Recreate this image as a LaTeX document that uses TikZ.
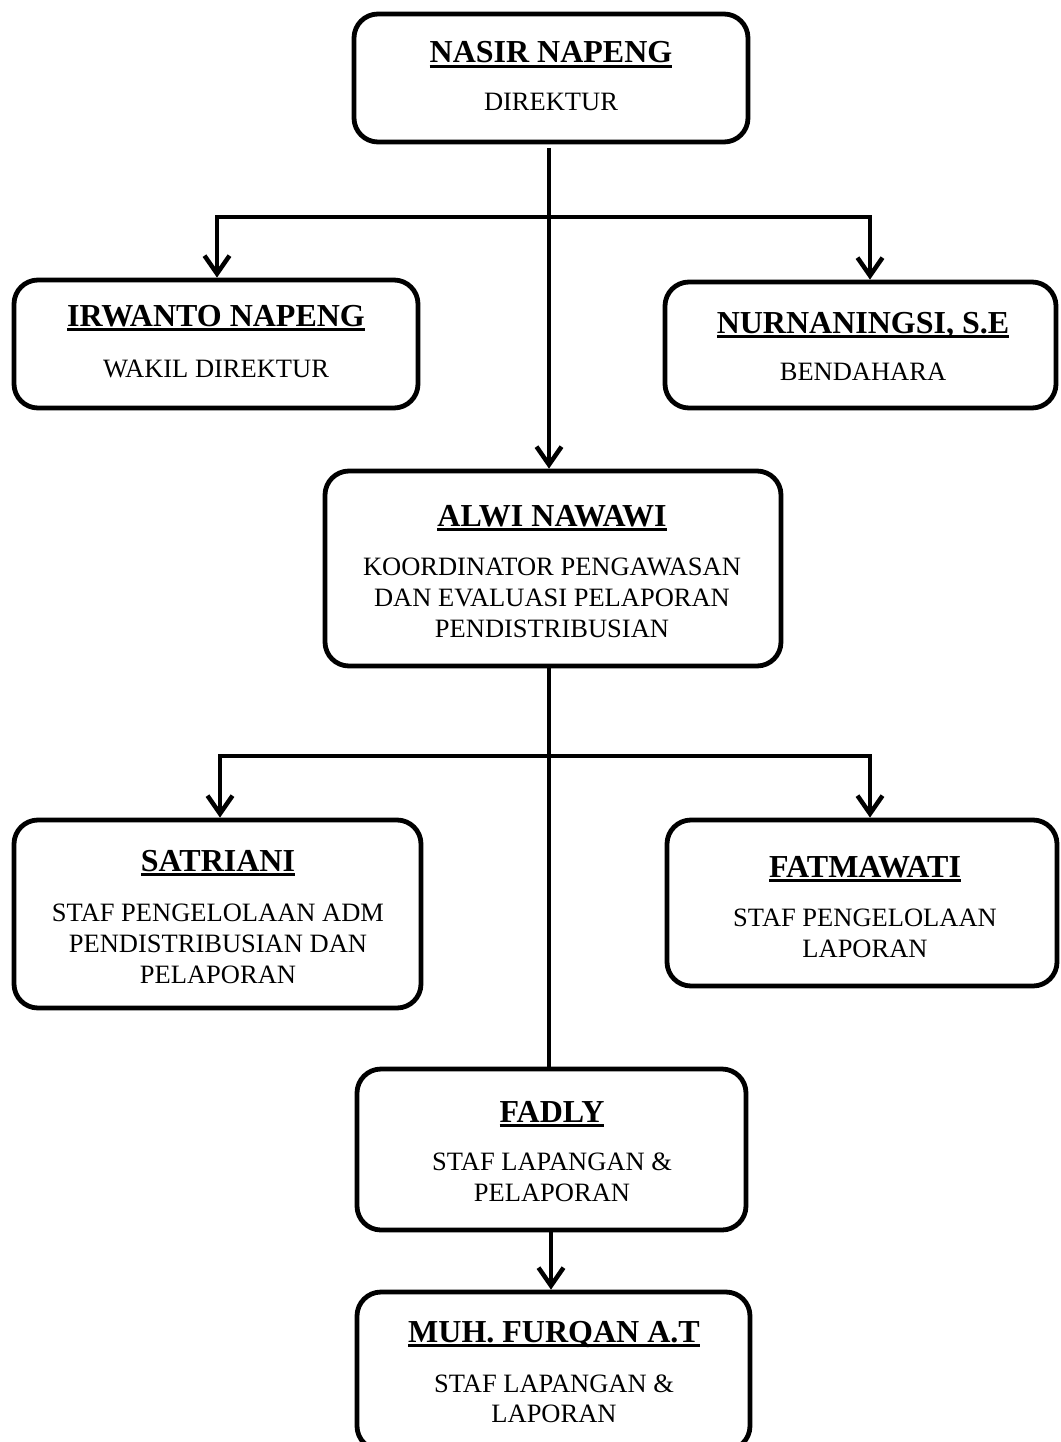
\documentclass[tikz,border=0pt]{standalone}
\usepackage{fontspec}
\setmainfont{Liberation Serif}
\usetikzlibrary{arrows.meta}
\newcommand\ulname[1]{\setbox0=\hbox{#1}\dp0=0pt\vtop{\box0\kern2pt\hrule height 2.6pt}}
\tikzset{
  orgbox/.style={draw=black, line width=4.8pt, rounded corners=24pt, inner sep=0pt},
  nametext/.style={anchor=base, inner sep=0pt, font=\fontsize{32}{36}\selectfont\bfseries},
  roletext/.style={anchor=base, inner sep=0pt, font=\fontsize{26.5}{31}\selectfont},
  conn/.style={line width=4.5pt, draw=black},
  connarr/.style={conn, -{Straight Barb[length=18pt,width=25pt,line width=4.5pt]}},
}
\begin{document}
\begin{tikzpicture}[x=1pt,y=-1pt]
\useasboundingbox (0,0) rectangle (1060,1442);
\begin{scope}
\clip (0,0) rectangle (1060,1442);
% boxes
\node[orgbox, minimum width=394pt, minimum height=128pt] (b1) at (551,78) {};
\node[orgbox, minimum width=404pt, minimum height=128pt] (b2) at (216,344) {};
\node[orgbox, minimum width=391pt, minimum height=126pt] (b3) at (860.5,345) {};
\node[orgbox, minimum width=456pt, minimum height=195pt] (b4) at (553,568.5) {};
\node[orgbox, minimum width=407pt, minimum height=188pt] (b5) at (217.5,914) {};
\node[orgbox, minimum width=390pt, minimum height=166pt] (b6) at (862,903) {};
\node[orgbox, minimum width=389pt, minimum height=161pt] (b7) at (551.5,1149.5) {};
\node[orgbox, minimum width=393pt, minimum height=158pt] (b8) at (553.5,1371) {};
\end{scope}
% texts
\node[nametext] (t1a) at (551,63) {\ulname{NASIR NAPENG}};
\node[roletext] (t1b) at (551,111) {DIREKTUR};
\node[nametext] (t2a) at (216,326) {\ulname{IRWANTO NAPENG}};
\node[roletext] (t2b) at (216,377) {WAKIL DIREKTUR};
\node[nametext] (t3a) at (863,333) {\ulname{NURNANINGSI, S.E}};
\node[roletext] (t3b) at (863,380) {BENDAHARA};
\node[nametext] (t4a) at (552,526) {\ulname{ALWI NAWAWI}};
\node[roletext] (t4b) at (552,575) {KOORDINATOR PENGAWASAN};
\node[roletext] (t4c) at (552,606) {DAN EVALUASI PELAPORAN};
\node[roletext] (t4d) at (552,637) {PENDISTRIBUSIAN};
\node[nametext] (t5a) at (218,871) {\ulname{SATRIANI}};
\node[roletext] (t5b) at (218,921) {STAF PENGELOLAAN ADM};
\node[roletext] (t5c) at (218,952) {PENDISTRIBUSIAN DAN};
\node[roletext] (t5d) at (218,983) {PELAPORAN};
\node[nametext] (t6a) at (865,877) {\ulname{FATMAWATI}};
\node[roletext] (t6b) at (865,926) {STAF PENGELOLAAN};
\node[roletext] (t6c) at (865,957) {LAPORAN};
\node[nametext] (t7a) at (552,1122) {\ulname{FADLY}};
\node[roletext] (t7b) at (552,1170) {STAF LAPANGAN \&};
\node[roletext] (t7c) at (552,1201) {PELAPORAN};
\node[nametext] (t8a) at (554,1342) {\ulname{MUH. FURQAN A.T}};
\node[roletext] (t8b) at (554,1392) {STAF LAPANGAN \&};
\node[roletext] (t8c) at (554,1422) {LAPORAN};
% connectors
\coordinate (top) at (549,148);
\coordinate (l1) at (217,217);
\coordinate (r1) at (870,217);
\coordinate (l2) at (220,756);
\coordinate (r2) at (870,756);
\coordinate (m7) at (551,1232);
\draw[connarr] (top) -- (top |- b4.north);
\draw[connarr] (r1) -- (l1) -- (l1 |- b2.north);
\draw[connarr] (l1) -- (r1) -- (r1 |- b3.north);
\draw[conn] (top |- b4.south) -- (top |- b7.north);
\draw[connarr] (r2) -- (l2) -- (l2 |- b5.north);
\draw[connarr] (l2) -- (r2) -- (r2 |- b6.north);
\draw[connarr] (m7) -- (m7 |- b8.north);
\end{tikzpicture}
\end{document}
